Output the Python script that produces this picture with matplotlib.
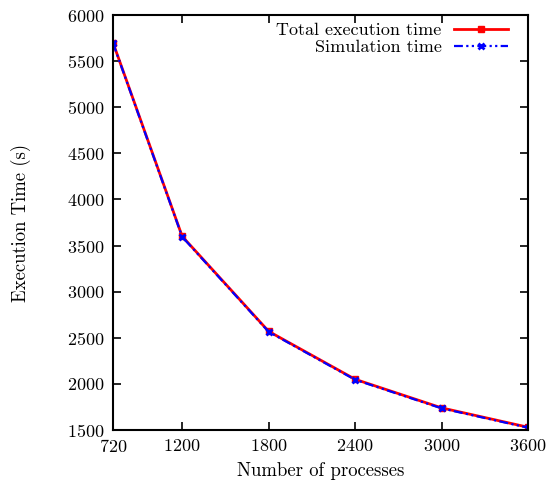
import matplotlib
matplotlib.use("Agg")
import matplotlib.pyplot as plt

processes = [720, 1200, 1800, 2400, 3000, 3600]
total_time = [5700, 3600, 2570, 2050, 1740, 1530]
simulation_time = [5695, 3595, 2565, 2045, 1735, 1525]

plt.rcParams["font.family"] = ["cmr10", "DejaVu Serif"]
plt.rcParams["axes.formatter.use_mathtext"] = True
plt.rcParams["mathtext.fontset"] = "cm"

fig = plt.figure(figsize=(5.57, 4.91), dpi=100)
ax = fig.add_axes([113 / 557, 1 - 430 / 491, (528 - 113) / 557, (430 - 15) / 491])

ax.plot(processes, total_time, color="red", lw=2, marker="s", ms=4,
        label="Total execution time")
ax.plot(processes, simulation_time, color="blue", lw=1.6, ls=(0, (4, 1.5, 1, 1.5, 1, 1.5)),
        marker="x", ms=5, mew=2, label="Simulation time")

ax.set_xlim(720, 3600)
ax.set_ylim(1500, 6000)
ax.set_xticks(processes)
ax.set_yticks(range(1500, 6001, 500))
ax.tick_params(direction="in", top=True, right=True, length=6, width=1.2, labelsize=13, pad=6)
for s in ax.spines.values():
    s.set_linewidth(1.5)

ax.set_xlabel("Number of processes", fontsize=13.5, labelpad=5)
ax.set_ylabel("Execution Time (s)", fontsize=13.5, labelpad=26)

leg = ax.legend(loc="upper right", frameon=False, fontsize=13, markerfirst=False,
                handlelength=3.0, borderaxespad=0.0, labelspacing=0.1, handletextpad=0.7,
                bbox_to_anchor=(0.97, 1.0))

fig.savefig("out.png", dpi=100)
